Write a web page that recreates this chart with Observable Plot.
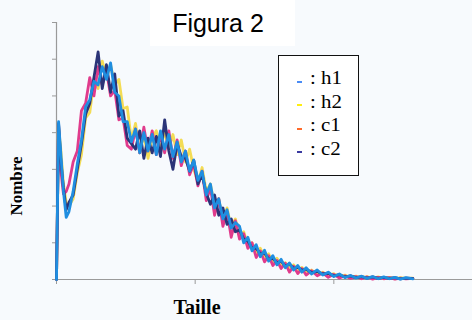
<!DOCTYPE html>
<html>
<head>
<meta charset="utf-8">
<script src="https://cdn.jsdelivr.net/npm/d3@7"></script>
<script src="https://cdn.jsdelivr.net/npm/@observablehq/plot@0.6"></script>
<style>
  html, body { margin: 0; padding: 0; background: #ffffff; }
  #wrap { position: relative; width: 472px; height: 320px; background: #f7fafd; overflow: hidden; }
  #wrap svg { position: absolute; left: 0; top: 0; }
  #titlebg { position: absolute; left: 150px; top: 0; width: 145px; height: 46px; background: #ffffff; }
  #title { position: absolute; left: 118px; width: 200px; top: 9px; text-align: center;
    font-family: "Liberation Sans", Arial, sans-serif; font-size: 25px; color: #000; }
  #ylab { position: absolute; left: 17px; top: 186px; transform: translate(-50%, -50%) rotate(-90deg);
    font-family: "Liberation Serif", "Times New Roman", serif; font-weight: bold; font-size: 17px; color: #000; white-space: nowrap; }
  #xlab { position: absolute; left: 147px; width: 100px; top: 296px; text-align: center;
    font-family: "Liberation Serif", "Times New Roman", serif; font-weight: bold; font-size: 20px; color: #000; }
  #legend { position: absolute; left: 278px; top: 55px; width: 79px; height: 119px; border: 1.5px solid #111; background: #fff;
    font-family: "Liberation Serif", "Times New Roman", serif; font-size: 19px; color: #000; box-sizing: content-box; }
  .lt { position: absolute; left: 31px; height: 19px; line-height: 19px; white-space: nowrap;
    transform: scaleX(1.1); transform-origin: 0 0; }
  .dash { position: absolute; left: 18px; width: 5px; height: 2px; }
</style>
</head>
<body>
<div id="wrap">
  <div id="titlebg"></div>
</div>
<script>
const xs = [0, 1.5, 3, 5, 7, 9, 12, 15, 18, 21, 24, 27, 30, 33, 36, 39, 42, 45, 48, 51, 54, 57, 60, 63, 66, 69, 72, 75, 78, 81,
  84, 87, 90, 93, 96, 99, 102, 105, 108, 111, 114, 117, 120, 123, 126, 129, 132, 135, 138, 141, 144, 147, 150, 153, 156, 159,
  162, 165, 168, 171, 174, 177, 180, 184, 188, 192, 196, 200, 204, 208, 212, 216, 220, 224, 228, 232, 236, 240, 244, 248, 252, 257];

const h1 = [0, 4.3, 3.5, 2.4, 1.69, 1.85, 2.4, 3.15,
  3.8, 4.7, 4.9, 5.4, 5.3, 5.8, 5.45, 5.9, 5.1, 5.0, 4.3, 4.3, 3.75, 4.1, 3.45, 4.0, 3.5, 3.95, 3.4, 4.05,
  3.55, 3.95, 3.35, 3.75, 3.2, 3.5, 2.95, 3.25, 2.7, 2.95, 2.3, 2.6, 1.95, 2.2, 1.65, 1.9, 1.4, 1.55,
  1.45, 1.0, 1.15, 0.78, 0.95, 0.62, 0.8, 0.5, 0.65, 0.4, 0.55, 0.32, 0.45, 0.26,
  0.38, 0.2, 0.32, 0.15, 0.26, 0.12, 0.2, 0.08, 0.15, 0.05, 0.11, 0.04, 0.09, 0.03, 0.08, 0.02, 0.07, 0.02, 0.06, 0.01, 0.05, 0.02];

const h2 = [0, 4.1, 3.6, 2.6, 2.1, 2.0, 2.2, 2.9,
  3.4, 4.4, 4.55, 5.4, 5.2, 5.95, 5.5, 5.85, 5.3, 5.45, 4.65, 4.7, 3.8, 4.25, 3.45, 3.95, 3.3, 3.85, 4.05, 3.5,
  4.05, 3.55, 3.95, 3.4, 3.8, 3.2, 3.55, 3.0, 2.65, 3.05, 2.4, 2.6, 2.0, 2.2, 1.6, 1.95, 1.4, 1.65,
  1.2, 1.3, 0.95, 1.0, 0.72, 0.85, 0.6, 0.7, 0.45, 0.58, 0.38, 0.46, 0.3, 0.4,
  0.24, 0.33, 0.18, 0.26, 0.13, 0.2, 0.1, 0.16, 0.07, 0.12, 0.05, 0.09, 0.04, 0.08, 0.03, 0.07, 0.02, 0.06, 0.02, 0.05, 0.03, 0.04];

const c1 = [0, 4.2, 3.0, 2.33, 2.4, 2.6, 3.2, 3.5,
  4.6, 4.8, 5.5, 5.0, 5.8, 5.3, 5.7, 5.0, 5.15, 4.35, 4.4, 3.65, 3.55, 4.1, 3.45, 4.15, 3.5, 4.05, 3.4, 3.95,
  3.45, 4.05, 3.3, 3.8, 3.1, 3.5, 2.85, 3.15, 2.55, 2.95, 2.15, 2.5, 1.75, 2.2, 1.45, 1.85, 1.15, 1.6,
  1.1, 1.25, 0.85, 1.0, 0.6, 0.78, 0.48, 0.65, 0.38, 0.52, 0.3, 0.44, 0.2, 0.36,
  0.16, 0.3, 0.12, 0.24, 0.1, 0.18, 0.06, 0.14, 0.04, 0.1, 0.03, 0.08, 0.02, 0.07, 0.01, 0.06, 0.02, 0.05, 0.01, 0.04, 0.02, 0.03];

const c2 = [0, 4.25, 3.3, 2.5, 1.9, 2.1, 2.3, 3.0,
  3.7, 4.5, 4.8, 5.5, 6.2, 5.2, 5.85, 5.1, 5.6, 4.45, 4.6, 3.85, 3.7, 3.55, 4.05, 3.3, 3.85, 3.45, 3.9, 3.35,
  4.35, 3.5, 3.0, 3.7, 3.35, 3.3, 2.95, 3.25, 2.6, 2.85, 2.35, 2.05, 2.3, 1.75, 1.95, 1.5, 1.65, 1.3,
  1.35, 1.1, 1.05, 0.85, 0.85, 0.7, 0.72, 0.55, 0.58, 0.45, 0.5, 0.36, 0.42, 0.3,
  0.34, 0.25, 0.28, 0.19, 0.22, 0.15, 0.17, 0.1, 0.13, 0.07, 0.1, 0.05, 0.08, 0.04, 0.07, 0.03, 0.06, 0.03, 0.05, 0.02, 0.04, 0.03];

const seriesNames = ["h1", "h2", "c1", "c2"];
const lineColors = ["#1f8ee0", "#f3dc55", "#e03b8c", "#2b3478"];
const legendColors = ["#4a8cf5", "#ffee10", "#ff6a2a", "#3a3aa0"];
const drawOrder = ["h2", "c1", "c2", "h1"];
const xTicks = [0, 100, 200];
const yTicks = [0, 1, 2, 3, 4, 5, 6, 7];
const seriesValues = { h1, h2, c1, c2 };

const rows = drawOrder.flatMap(name => seriesValues[name].map((v, i) => ({ x: xs[i], y: v, s: name })));

const chart = Plot.plot({
  width: 472,
  height: 320,
  marginLeft: 56,
  marginRight: 0,
  marginTop: 22,
  marginBottom: 41,
  style: { background: "transparent", color: "#9a9a9a", overflow: "visible" },
  x: { domain: [0, 300], ticks: xTicks, tickSize: 5, tickFormat: () => "", label: null },
  y: { domain: [0, 7], ticks: yTicks, tickSize: 4, tickFormat: () => "", label: null },
  color: { domain: seriesNames, range: lineColors },
  marks: [
    Plot.ruleY([0], { stroke: "#9a9a9a", strokeWidth: 1.2 }),
    Plot.ruleX([0], { stroke: "#9a9a9a", strokeWidth: 1.2 }),
    Plot.lineY(rows, { x: "x", y: "y", z: "s", stroke: "s", strokeWidth: 2.8, strokeLinejoin: "round" })
  ]
});

const wrap = document.getElementById("wrap");
wrap.appendChild(chart);

const title = document.createElement("div");
title.id = "title"; title.textContent = "Figura 2";
wrap.appendChild(title);

const ylab = document.createElement("div");
ylab.id = "ylab"; ylab.textContent = "Nombre";
wrap.appendChild(ylab);

const xlab = document.createElement("div");
xlab.id = "xlab"; xlab.textContent = "Taille";
wrap.appendChild(xlab);

const legend = document.createElement("div");
legend.id = "legend";
seriesNames.forEach((name, i) => {
  const dash = document.createElement("div");
  dash.className = "dash";
  dash.style.top = (24.5 + i * 23.6) + "px";
  dash.style.background = legendColors[i];
  legend.appendChild(dash);
  const t = document.createElement("div");
  t.className = "lt";
  t.style.top = (11.9 + i * 23.6) + "px";
  t.textContent = ": " + name;
  legend.appendChild(t);
});
wrap.appendChild(legend);
</script>
</body>
</html>
